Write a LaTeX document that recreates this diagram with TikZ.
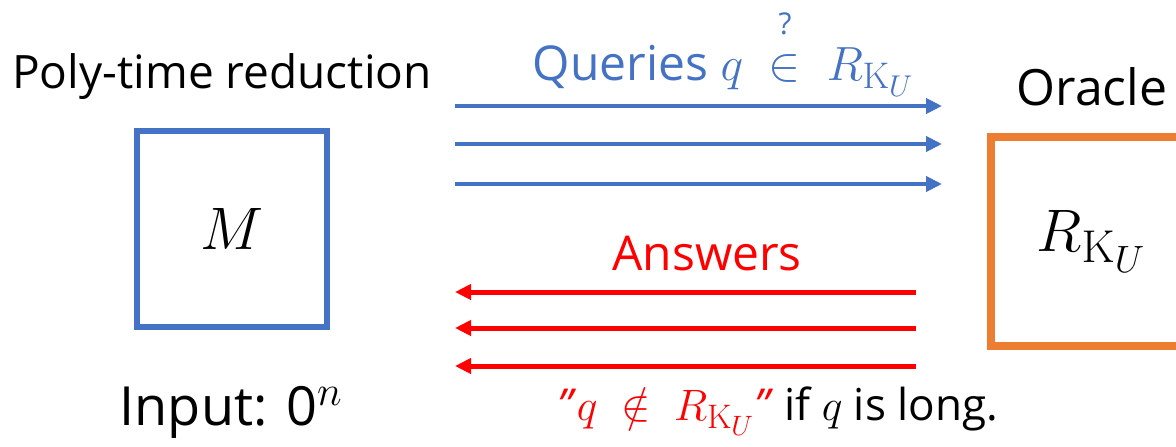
\documentclass[tikz,border=0pt]{standalone}
\usepackage{fix-cm}
\usepackage{amsmath}
\usepackage[no-math]{fontspec}
\setmainfont{Open Sans}
\usetikzlibrary{arrows.meta}
\DeclareMathSizes{60}{60}{46}{38}
\DeclareMathSizes{54}{54}{42}{34}
\DeclareMathSizes{48}{48}{37}{30}
\DeclareMathSizes{44}{44}{34}{28}
\definecolor{qblue}{HTML}{4472C4}
\definecolor{oorange}{HTML}{ED7D31}
\definecolor{ared}{HTML}{FF0000}
\newcommand{\RKU}{R_{\mathrm{K}_U}}
\begin{document}
\begin{tikzpicture}[x=1pt,y=-1pt,
  qarrow/.style={draw=qblue, line width=4pt, -{Triangle[length=16pt,width=15pt]}},
  aarrow/.style={draw=ared, line width=5pt, -{Triangle[length=16pt,width=15pt]}},
  lbl/.style={inner sep=0pt, anchor=base},
  big/.style={font=\fontsize{48}{56}\selectfont},
  mid/.style={font=\fontsize{44}{50}\selectfont}]
\path[use as bounding box, fill=white] (0,0) rectangle (1176,447);
\clip (0,0) rectangle (1176,447);
% reduction box
\node[lbl, font=\fontsize{46}{52}\selectfont] (poly) at (222,88) {Poly-time reduction};
\node[draw=qblue, line width=6pt, minimum width=190pt, minimum height=196pt, inner sep=0pt] (M) at (232,229) {\fontsize{60}{66}\selectfont $M$};
\node[lbl, font=\fontsize{54}{60}\selectfont] (input) at (231,425) {Input: 0$^{n}$};
% oracle box
\node[lbl, font=\fontsize{50}{56}\selectfont] (oracle) at (1092,105) {Oracle};
\node[draw=oorange, line width=8pt, minimum width=200pt, minimum height=209pt, inner sep=0pt] (R) at (1091,241.5) {\fontsize{60}{66}\selectfont $\RKU$\hspace{6pt}};
% queries
\node[lbl, big, text=qblue] (qlbl) at (723,80) {Queries $q\ \overset{\raisebox{15pt}{\fontsize{30}{30}\selectfont ?}}{\in}\ \RKU$};
\coordinate (qs1) at (455,106); \coordinate (qe1) at (942,106);
\coordinate (qs2) at (455,144); \coordinate (qe2) at (942,144);
\coordinate (qs3) at (455,184); \coordinate (qe3) at (942,184);
\draw[qarrow] (qs1) -- (qe1);
\draw[qarrow] (qs2) -- (qe2);
\draw[qarrow] (qs3) -- (qe3);
% answers
\node[lbl, big, text=ared] (albl) at (707,270) {Answers};
\coordinate (as1) at (916,292); \coordinate (ae1) at (455,292);
\coordinate (as2) at (916,328); \coordinate (ae2) at (455,328);
\coordinate (as3) at (916,366); \coordinate (ae3) at (455,366);
\draw[aarrow] (as1) -- (ae1);
\draw[aarrow] (as2) -- (ae2);
\draw[aarrow] (as3) -- (ae3);
\node[lbl, mid] (note) at (778,420) {{\color{ared}\textit{"}$q\ \notin\ \RKU$\textit{"}} if $q$ is long.};
\end{tikzpicture}
\end{document}
